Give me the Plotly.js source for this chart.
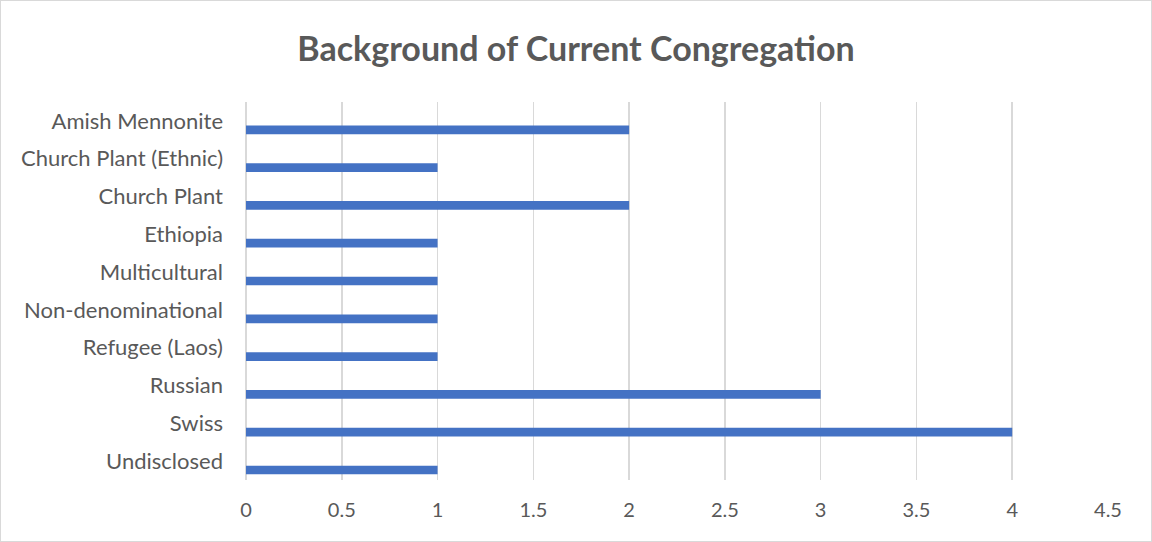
<!DOCTYPE html>
<html>
<head>
<meta charset="utf-8">
<script src="https://cdn.plot.ly/plotly-3.0.1.min.js"></script>
<style>
html,body{margin:0;padding:0;background:#fff;}
#wrap{position:relative;width:1152px;height:542px;}
#chart{width:1152px;height:542px;}
#frame{position:absolute;left:0;top:0;width:1152px;height:542px;box-sizing:border-box;border:1px solid #d9d9d9;pointer-events:none;z-index:10;}
</style>
</head>
<body>
<div id="wrap"><div id="chart"></div><div id="frame"></div></div>
<script>
const categories = ["Amish Mennonite","Church Plant (Ethnic)","Church Plant","Ethiopia","Multicultural","Non-denominational","Refugee (Laos)","Russian","Swiss","Undisclosed"];
const counts = [2,1,2,1,1,1,1,3,4,1];
const xTicks = [0,0.5,1,1.5,2,2.5,3,3.5,4,4.5];

const trace = {
  type: 'bar',
  orientation: 'h',
  y: categories,
  x: counts,
  marker: {color: '#4472C4'},
  offset: 0.12,
  width: 0.23,
  hoverinfo: 'x+y'
};

const layout = {
  width: 1152,
  height: 542,
  margin: {l: 246, r: 44, t: 102, b: 62},
  paper_bgcolor: '#ffffff',
  plot_bgcolor: '#ffffff',
  font: {family: 'Lato, "Open Sans", sans-serif', color: '#595959', size: 20},
  title: {
    text: '<b>Background of Current Congregation</b>',
    font: {family: 'Lato, "Open Sans", sans-serif', size: 34, color: '#595959'},
    x: 0.5, xref: 'container', xanchor: 'center',
    y: 1 - 49/542, yref: 'container', yanchor: 'middle'
  },
  xaxis: {
    range: [0, 4.5],
    tickvals: xTicks,
    ticktext: xTicks.map(String),
    showgrid: true,
    gridcolor: '#d9d9d9',
    gridwidth: 1.5,
    zeroline: true,
    zerolinecolor: '#d9d9d9',
    zerolinewidth: 1.5,
    showline: false,
    ticks: '',
    ticklabelstandoff: 16,
    tickfont: {size: 20, color: '#595959'}
  },
  yaxis: {
    type: 'category',
    autorange: 'reversed',
    showgrid: false,
    zeroline: false,
    showline: false,
    ticks: '',
    ticklabelstandoff: 22,
    tickfont: {size: 22, color: '#595959'}
  },
  showlegend: false
};

Plotly.newPlot('chart', [trace], layout, {displayModeBar: false, staticPlot: true});
</script>
</body>
</html>
